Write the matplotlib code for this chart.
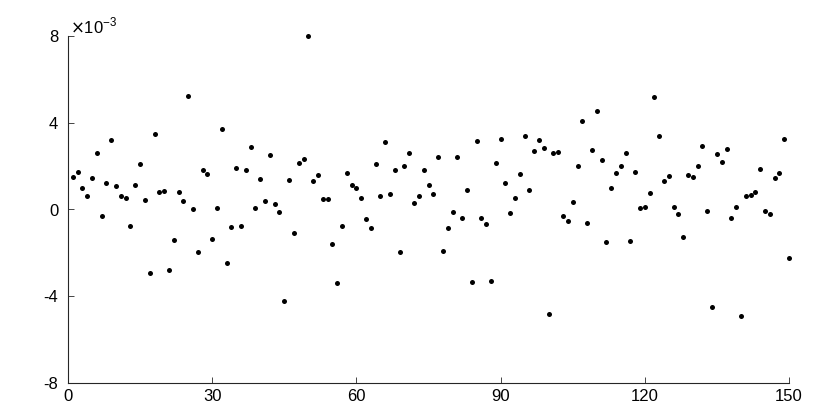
import numpy as np
import matplotlib
matplotlib.use("Agg")
import matplotlib.pyplot as plt

# sample values, in units of 1e-3
vals = [
    1.5, 1.75, 1.0, 0.6, 1.45, 2.6, -0.3, 1.2, 3.2, 1.1,
    0.6, 0.55, -0.75, 1.15, 2.1, 0.45, -2.95, 3.5, 0.8, 0.85,
    -2.8, -1.4, 0.8, 0.4, 5.25, 0.0, -1.95, 1.8, 1.65, -1.35,
    0.05, 3.7, -2.45, -0.8, 1.9, -0.75, 1.8, 2.9, 0.05, 1.4,
    0.4, 2.5, 0.25, -0.1, -4.2, 1.35, -1.1, 2.15, 2.35, 8.0,
    1.3, 1.6, 0.5, 0.5, -1.6, -3.4, -0.75, 1.7, 1.15, 1.0,
    0.55, -0.45, -0.85, 2.1, 0.6, 3.1, 0.7, 1.8, -1.95, 2.0,
    2.6, 0.3, 0.6, 1.8, 1.15, 0.7, 2.4, -1.9, -0.85, -0.1,
    2.4, -0.4, 0.9, -3.35, 3.15, -0.4, -0.65, -3.3, 2.15, 3.25,
    1.2, -0.15, 0.55, 1.65, 3.4, 0.9, 2.7, 3.2, 2.85, -4.8,
    2.6, 2.65, -0.3, -0.55, 0.35, 2.0, 4.1, -0.6, 2.75, 4.55,
    2.3, -1.5, 1.0, 1.7, 2.0, 2.6, -1.45, 1.75, 0.05, 0.1,
    0.75, 5.2, 3.4, 1.3, 1.55, 0.1, -0.2, -1.25, 1.6, 1.5,
    2.0, 2.95, -0.05, -4.5, 2.55, 2.2, 2.8, -0.4, 0.1, -4.9,
    0.6, 0.65, 0.8, 1.85, -0.05, -0.2, 1.45, 1.7, 3.25, -2.25,
]
n = np.arange(1, len(vals) + 1)
y = np.array(vals) * 1e-3

xticks = [0, 30, 60, 90, 120, 150]
yticks = [-8, -4, 0, 4, 8]

plt.rcParams['font.family'] = ['Liberation Sans Narrow', 'Liberation Sans', 'DejaVu Sans']

fig = plt.figure(figsize=(8.3, 4.15), dpi=100)
ax = fig.add_axes([68 / 830, 32 / 415, 721 / 830, 347 / 415])

ax.plot(n, y, 'o', color='black', markersize=3.6, markeredgewidth=0, clip_on=False)

ax.set_xlim(0, 150)
ax.set_ylim(-8e-3, 8e-3)
ax.set_xticks(xticks)
ax.set_xticklabels([str(t) for t in xticks])
ax.set_yticks([t * 1e-3 for t in yticks])
ax.set_yticklabels([str(t) for t in yticks])

axcol = '#262626'
for s in ['top', 'right']:
    ax.spines[s].set_visible(False)
for s in ['left', 'bottom']:
    ax.spines[s].set_color(axcol)
    ax.spines[s].set_linewidth(0.8)
ax.tick_params(direction='in', length=4, width=0.6, colors=axcol,
               labelsize=12, labelcolor='black')
ax.tick_params(axis='x', pad=4)
ax.tick_params(axis='y', pad=7)

ax.text(0.003, 1.0, r'$\times$10$^{\mathregular{-3}}$', transform=ax.transAxes,
        fontsize=12, ha='left', va='bottom')

fig.savefig('out.png', dpi=100)
